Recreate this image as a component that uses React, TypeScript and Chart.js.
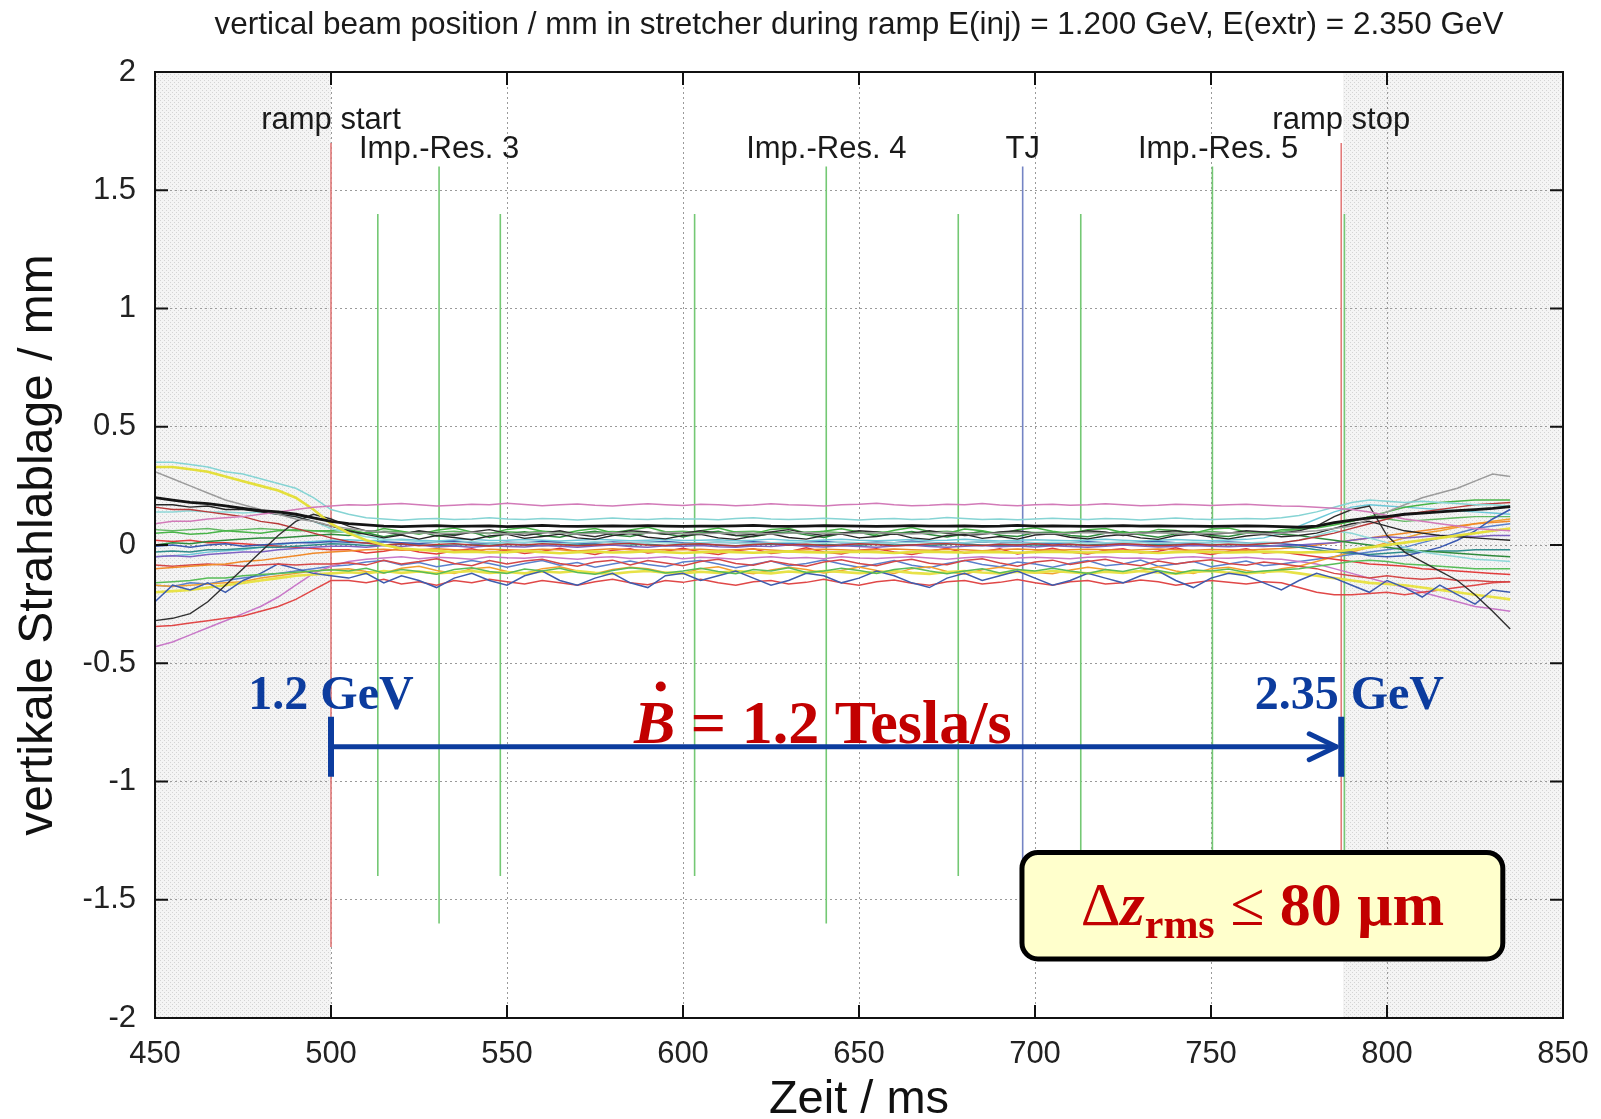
import React, { useEffect, useRef } from "react";
import { Chart, registerables } from "chart.js";

Chart.register(...registerables);

const SANS = "'Liberation Sans', Arial, Helvetica, sans-serif";
const SERIF = "'Liberation Serif', 'Times New Roman', Times, serif";

const TITLE = "vertical beam position / mm in stretcher during ramp E(inj) = 1.200 GeV, E(extr) = 2.350 GeV";
const X_TITLE = "Zeit / ms";
const Y_TITLE = "vertikale Strahlablage / mm";

const X_MIN = 450;
const X_MAX = 850;
const X_STEP = 50;
const Y_MIN = -2;
const Y_MAX = 2;
const Y_STEP = 0.5;

// sample times (ms)
const times = [
  450, 455, 460, 465, 470, 475, 480, 485, 490, 495, 500,
  505, 510, 515, 520, 525, 530, 535, 540, 545, 550,
  555, 560, 565, 570, 575, 580, 585, 590, 595, 600,
  605, 610, 615, 620, 625, 630, 635, 640, 645, 650,
  655, 660, 665, 670, 675, 680, 685, 690, 695, 700,
  705, 710, 715, 720, 725, 730, 735, 740, 745, 750,
  755, 760, 765, 770, 775, 780, 785,
  790, 795, 800, 805, 810, 815, 820, 825, 830, 835,
];

// vertical beam positions (mm) per BPM
const s01BlackThick = [
  .20, .19, .18, .175, .165, .155, .145, .14, .13, .115, .10,
  .09, .085, .08, .078, .08, .082, .079, .08, .081, .078,
  .08, .083, .08, .079, .08, .081, .08, .082, .08, .079,
  .08, .08, .081, .083, .08, .079, .08, .082, .081, .08,
  .079, .08, .082, .08, .08, .081, .079, .08, .083, .08,
  .081, .08, .079, .08, .082, .08, .081, .08, .08, .079,
  .08, .081, .08, .078, .075, .08, .095,
  .105, .115, .12, .13, .135, .14, .145, .15, .155, .162,
];
const s02PinkTop = [
  .09, .10, .10, .11, .115, .12, .13, .14, .15, .16, .165,
  .17, .168, .172, .175, .17, .165, .168, .172, .17, .176,
  .171, .166, .17, .173, .168, .165, .17, .174, .17, .167,
  .172, .17, .166, .169, .174, .17, .168, .165, .17, .172,
  .176, .17, .166, .168, .172, .17, .175, .169, .166, .17,
  .172, .168, .17, .174, .17, .166, .168, .172, .17, .167,
  .17, .172, .168, .165, .164, .16, .155,
  .15, .14, .125, .11, .10, .09, .08, .07, .065, .06,
];
const s03CyanTop = [
  .35, .35, .34, .33, .31, .30, .28, .26, .24, .20, .15,
  .13, .115, .11, .105, .11, .112, .108, .11, .115, .11,
  .108, .112, .11, .106, .11, .114, .11, .108, .112, .11,
  .11, .107, .112, .115, .11, .108, .11, .113, .11, .106,
  .11, .112, .108, .11, .116, .112, .108, .11, .107, .11,
  .113, .11, .108, .112, .11, .106, .11, .114, .11, .108,
  .11, .112, .11, .115, .125, .14, .16,
  .18, .19, .185, .18, .185, .18, .175, .17, .17, .165,
];
const s04Yellow = [
  .33, .33, .32, .31, .29, .27, .25, .23, .20, .15, .09,
  .05, .02, .0, -.015, -.02, -.025, -.03, -.028, -.032, -.03,
  -.025, -.03, -.035, -.03, -.028, -.032, -.03, -.026, -.03, -.034,
  -.03, -.028, -.03, -.033, -.03, -.027, -.03, -.032, -.03, -.028,
  -.03, -.034, -.03, -.028, -.03, -.032, -.029, -.03, -.033, -.03,
  -.028, -.03, -.032, -.03, -.027, -.03, -.034, -.03, -.028, -.03,
  -.032, -.03, -.028, -.03, -.032, -.03, -.028,
  -.02, -.01, .0, .01, .02, .03, .04, .05, .06, .07,
];
const s05Gray = [
  .31, .28, .25, .22, .19, .17, .15, .13, .11, .10, .08,
  .07, .06, .055, .05, .052, .048, .05, .054, .05, .046,
  .05, .053, .05, .047, .05, .052, .049, .05, .054, .05,
  .048, .05, .052, .05, .046, .05, .053, .05, .048, .05,
  .052, .05, .047, .05, .054, .05, .048, .05, .052, .05,
  .049, .05, .053, .05, .047, .05, .052, .05, .048, .05,
  .052, .05, .048, .05, .055, .06, .07,
  .08, .11, .14, .17, .20, .22, .24, .27, .30, .29,
];
const s06Black2 = [
  -.32, -.31, -.29, -.24, -.17, -.10, -.03, .04, .10, .13, .11,
  .08, .06, .055, .045, .06, .05, .04, .055, .065, .05,
  .04, .05, .06, .045, .035, .05, .06, .055, .045, .05,
  .06, .05, .04, .045, .055, .065, .05, .04, .05, .06,
  .055, .045, .05, .06, .05, .04, .045, .055, .06, .05,
  .045, .05, .06, .055, .04, .05, .055, .06, .05, .045,
  .05, .06, .055, .05, .06, .08, .12,
  .15, .165, .04, -.03, -.07, -.11, -.15, -.21, -.28, -.355,
];
const s07Black3 = [
  .17, .17, .16, .165, .15, .15, .14, .13, .12, .10, .08,
  .06, .045, .03, .042, .025, .04, .032, .022, .038, .045,
  .028, .036, .046, .03, .024, .04, .048, .033, .026, .04,
  .045, .03, .024, .038, .047, .032, .025, .04, .046, .03,
  .036, .048, .03, .024, .04, .045, .028, .036, .025, .042,
  .047, .033, .026, .038, .044, .03, .024, .04, .046, .034,
  .026, .038, .045, .035, .04, .05, .07,
  .09, .10, .08, .06, .05, .04, .035, .03, .025, .02,
];
const s08DarkRed = [
  .16, .15, .15, .14, .13, .12, .10, .09, .07, .05, .03,
  .015, .008, .0, .005, -.003, .002, .006, .0, -.004, .003,
  .0, .005, .002, -.003, .0, .004, .007, .0, -.002, .003,
  .005, .0, -.004, .002, .006, .0, .003, -.002, .0, .005,
  .002, -.003, .0, .004, .006, .0, -.002, .003, .0, .005,
  .0, .003, -.002, .0, .005, .002, -.003, .0, .004, .0,
  .003, .0, .005, .01, .02, .035, .05,
  .07, .09, .11, .13, .14, .15, .16, .17, .175, .18,
];
const s09Cyan2 = [
  .14, .14, .145, .14, .14, .135, .14, .13, .12, .10, .07,
  .05, .035, .025, .02, .015, .012, .01, .015, .008, .01,
  .012, .01, .006, .01, .014, .01, .008, .012, .01, .006,
  .01, .013, .01, .007, .01, .012, .01, .008, .013, .01,
  .008, .01, .012, .01, .006, .01, .014, .01, .008, .01,
  .012, .01, .008, .01, .013, .01, .007, .01, .012, .01,
  .01, .008, .012, .01, .02, .04, .06,
  .05, .03, .01, -.01, -.03, -.04, -.05, -.06, -.065, -.07,
];
const s10Green1 = [
  .05, .055, .045, .05, .06, .055, .05, .06, .065, .06, .06,
  .065, .05, .07, .058, .045, .062, .072, .055, .048, .066,
  .074, .058, .046, .06, .07, .052, .063, .075, .056, .047,
  .06, .072, .054, .048, .066, .071, .05, .058, .069, .055,
  .046, .062, .074, .057, .05, .068, .06, .047, .064, .073,
  .058, .049, .065, .07, .053, .047, .066, .061, .05, .068,
  .072, .055, .05, .064, .068, .072, .085,
  .10, .12, .14, .16, .17, .18, .185, .19, .19, .19,
];
const s11Green2 = [
  .0, .01, .005, .015, .02, .025, .03, .03, .035, .04, .045,
  .04, .052, .035, .048, .058, .038, .045, .055, .032, .047,
  .056, .04, .033, .05, .058, .042, .036, .052, .047, .034,
  .05, .058, .04, .035, .049, .056, .043, .032, .05, .054,
  .038, .048, .057, .044, .034, .046, .058, .041, .036, .052,
  .055, .04, .035, .05, .057, .043, .033, .047, .056, .04,
  .036, .05, .055, .045, .04, .03, .02,
  .01, .0, -.01, -.02, -.025, -.03, -.035, -.04, -.045, -.05,
];
const s12Green3 = [
  -.16, -.155, -.15, -.14, -.14, -.13, -.125, -.12, -.115, -.11, -.105,
  -.11, -.098, -.118, -.104, -.112, -.124, -.104, -.096, -.112, -.12,
  -.102, -.11, -.098, -.116, -.124, -.108, -.096, -.104, -.118, -.11,
  -.098, -.112, -.122, -.104, -.11, -.096, -.116, -.11, -.098, -.108,
  -.12, -.104, -.096, -.11, -.122, -.11, -.10, -.118, -.104, -.11,
  -.098, -.11, -.12, -.104, -.112, -.096, -.108, -.122, -.106, -.11,
  -.102, -.116, -.11, -.105, -.10, -.09, -.08,
  -.07, -.065, -.07, -.08, -.085, -.09, -.095, -.10, -.10, -.10,
];
const s13Blue1 = [
  -.005, .0, -.01, .0, .005, -.005, .0, .005, .01, .01, .015,
  .012, .008, .014, .01, .006, .012, .016, .01, .007, .012,
  .01, .015, .011, .006, .01, .013, .009, .012, .015, .01,
  .008, .012, .01, .014, .009, .006, .011, .015, .01, .008,
  .012, .01, .016, .011, .007, .01, .013, .009, .012, .01,
  .006, .01, .014, .01, .008, .012, .015, .01, .007, .011,
  .013, .01, .008, .005, .0, -.01, -.02,
  -.03, -.045, -.05, -.045, -.03, -.01, .02, .06, .11, .15,
];
const s14Purple = [
  -.05, -.045, -.05, -.04, -.035, -.03, -.03, -.02, -.015, -.01, -.005,
  -.005, -.01, -.002, -.006, .0, -.008, -.004, -.01, -.003, -.006,
  -.008, -.002, -.005, -.01, -.004, .0, -.006, -.009, -.003, -.005,
  -.002, -.007, -.01, -.004, -.006, .0, -.005, -.008, -.003, -.006,
  -.009, -.004, -.001, -.006, -.01, -.005, -.002, -.007, -.004, -.008,
  -.003, -.006, -.01, -.005, .0, -.004, -.008, -.006, -.002, -.005,
  -.007, -.004, -.006, -.002, .0, .005, .01,
  .02, .03, .035, .03, .035, .04, .04, .035, .04, .04,
];
const s15Teal = [
  -.03, -.025, -.03, -.02, -.02, -.015, -.01, -.01, -.005, .0, .005,
  .003, -.002, .0, .004, .001, -.003, .0, .002, -.001, .003,
  .0, -.003, .002, .0, .004, -.001, .0, .003, -.002, .001,
  .002, .0, -.003, .001, .004, .0, -.002, .002, .0, -.001,
  .003, .0, .001, -.002, .002, .004, .0, -.003, .001, .0,
  -.002, .002, .0, .003, -.001, .0, .004, .001, -.002, .0,
  .002, .0, -.002, -.005, -.01, -.02, -.03,
  -.035, -.04, -.035, -.03, -.03, -.025, -.025, -.02, -.02, -.02,
];
const s16Orange1 = [
  -.10, -.095, -.09, -.085, -.08, -.07, -.065, -.055, -.045, -.035, -.03,
  -.025, -.02, -.018, -.022, -.02, -.016, -.02, -.024, -.018, -.02,
  -.022, -.018, -.02, -.025, -.02, -.016, -.02, -.022, -.019, -.02,
  -.018, -.022, -.02, -.017, -.021, -.025, -.02, -.018, -.02, -.023,
  -.02, -.017, -.02, -.022, -.018, -.02, -.024, -.02, -.017, -.02,
  -.022, -.02, -.018, -.02, -.023, -.02, -.017, -.02, -.022, -.019,
  -.02, -.022, -.018, -.015, -.01, .0, .01,
  .02, .03, .04, .05, .06, .07, .08, .09, .095, .10,
];
const s17Red1 = [
  .02, .015, .02, .01, .01, .005, .0, -.005, -.01, -.015, -.02,
  -.02, -.034, -.026, -.014, -.03, -.038, -.024, -.016, -.032, -.022,
  -.036, -.026, -.014, -.028, -.04, -.022, -.016, -.034, -.026, -.014,
  -.03, -.04, -.024, -.016, -.036, -.028, -.012, -.03, -.038, -.022,
  -.016, -.03, -.04, -.026, -.014, -.034, -.028, -.016, -.038, -.026,
  -.014, -.03, -.038, -.022, -.016, -.034, -.026, -.012, -.03, -.04,
  -.026, -.016, -.034, -.03, -.04, -.05, -.06,
  -.07, -.08, -.085, -.09, -.10, -.105, -.11, -.115, -.12, -.125,
];
const s18Red2 = [
  -.085, -.09, -.085, -.08, -.085, -.09, -.085, -.08, -.085, -.08, -.08,
  -.075, -.085, -.065, -.08, -.07, -.058, -.078, -.088, -.066, -.08,
  -.068, -.06, -.078, -.09, -.072, -.064, -.084, -.066, -.076, -.088,
  -.07, -.06, -.078, -.086, -.068, -.08, -.09, -.072, -.062, -.078,
  -.088, -.07, -.06, -.077, -.083, -.066, -.058, -.076, -.09, -.072,
  -.064, -.082, -.07, -.06, -.078, -.088, -.068, -.08, -.07, -.062,
  -.078, -.086, -.072, -.08, -.09, -.10, -.12,
  -.13, -.14, -.13, -.14, -.145, -.14, -.15, -.15, -.155, -.155,
];
const s19BlueWiggly = [
  -.24, -.17, -.19, -.16, -.20, -.15, -.12, -.08, -.10, -.12, -.13,
  -.14, -.12, -.16, -.13, -.15, -.18, -.14, -.12, -.15, -.17,
  -.13, -.11, -.15, -.17, -.14, -.12, -.16, -.18, -.13, -.12,
  -.15, -.13, -.11, -.14, -.17, -.15, -.12, -.13, -.16, -.14,
  -.11, -.13, -.16, -.18, -.14, -.12, -.15, -.13, -.11, -.14,
  -.17, -.15, -.12, -.14, -.16, -.13, -.11, -.15, -.18, -.14,
  -.12, -.13, -.16, -.19, -.15, -.12, -.14,
  -.17, -.20, -.15, -.18, -.22, -.17, -.21, -.25, -.19, -.20,
];
const s20Yellow2 = [
  -.20, -.195, -.19, -.18, -.17, -.16, -.15, -.14, -.13, -.125, -.12,
  -.115, -.12, -.11, -.118, -.112, -.12, -.115, -.11, -.118, -.114,
  -.12, -.112, -.116, -.11, -.118, -.122, -.114, -.11, -.117, -.12,
  -.113, -.118, -.11, -.115, -.12, -.112, -.117, -.11, -.114, -.119,
  -.115, -.11, -.118, -.122, -.114, -.11, -.116, -.12, -.113, -.117,
  -.11, -.115, -.12, -.113, -.118, -.11, -.116, -.121, -.114, -.11,
  -.117, -.12, -.114, -.11, -.12, -.13, -.14,
  -.15, -.16, -.165, -.17, -.18, -.19, -.20, -.21, -.22, -.23,
];
const s21Orange2 = [
  -.17, -.175, -.17, -.165, -.16, -.155, -.14, -.13, -.12, -.11, -.105,
  -.10, -.112, -.118, -.098, -.09, -.108, -.12, -.10, -.094, -.112,
  -.12, -.10, -.092, -.11, -.122, -.104, -.094, -.10, -.116, -.12,
  -.10, -.092, -.112, -.122, -.106, -.094, -.104, -.118, -.108, -.093,
  -.108, -.12, -.10, -.092, -.112, -.124, -.105, -.094, -.104, -.116,
  -.122, -.106, -.094, -.104, -.118, -.108, -.092, -.11, -.12, -.10,
  -.094, -.108, -.118, -.10, -.09, -.07, -.05,
  -.03, -.01, .01, .03, .05, .06, .075, .09, .10, .11,
];
const s22RedLow = [
  -.345, -.34, -.33, -.32, -.31, -.30, -.28, -.26, -.23, -.19, -.15,
  -.15, -.16, -.145, -.165, -.155, -.17, -.15, -.16, -.145, -.155,
  -.165, -.15, -.16, -.17, -.155, -.145, -.16, -.168, -.15, -.158,
  -.145, -.16, -.17, -.155, -.15, -.165, -.158, -.145, -.16, -.17,
  -.155, -.148, -.162, -.17, -.155, -.15, -.165, -.158, -.146, -.16,
  -.17, -.155, -.15, -.165, -.16, -.148, -.155, -.17, -.16, -.15,
  -.158, -.165, -.155, -.16, -.18, -.20, -.21,
  -.21, -.205, -.20, -.21, -.20, -.19, -.18, -.17, -.16, -.155,
];
const s23PurplePink = [
  -.43, -.41, -.38, -.35, -.32, -.29, -.26, -.22, -.17, -.12, -.09,
  -.07, -.06, -.055, -.05, -.058, -.052, -.055, -.06, -.05, -.054,
  -.056, -.05, -.055, -.06, -.053, -.05, -.057, -.055, -.05, -.058,
  -.052, -.055, -.06, -.054, -.05, -.056, -.053, -.058, -.05, -.055,
  -.057, -.053, -.05, -.055, -.06, -.054, -.05, -.056, -.055, -.052,
  -.055, -.058, -.052, -.05, -.056, -.055, -.06, -.053, -.05, -.055,
  -.056, -.052, -.058, -.06, -.07, -.08, -.10,
  -.12, -.14, -.16, -.18, -.20, -.22, -.24, -.26, -.27, -.28,
];
const s24Blue3 = [
  -.17, -.175, -.16, -.165, -.15, -.14, -.13, -.12, -.11, -.10, -.09,
  -.085, -.072, -.066, -.084, -.074, -.092, -.08, -.066, -.078, -.094,
  -.078, -.066, -.086, -.074, -.094, -.08, -.068, -.082, -.092, -.072,
  -.066, -.08, -.096, -.082, -.068, -.088, -.078, -.064, -.08, -.094,
  -.08, -.066, -.086, -.096, -.078, -.066, -.082, -.092, -.072, -.08,
  -.094, -.078, -.066, -.088, -.08, -.064, -.09, -.08, -.07, -.092,
  -.08, -.068, -.088, -.08, -.07, -.06, -.05,
  -.04, -.03, -.02, -.01, .01, .03, .05, .07, .08, .09,
];
const s25Green4 = [
  .065, .06, .065, .07, .06, .065, .07, .065, .06, .06, .055,
  .055, .05, .058, .055, .05, .054, .058, .052, .05, .056,
  .053, .058, .055, .05, .054, .057, .052, .05, .055, .058,
  .052, .05, .056, .058, .053, .05, .055, .057, .052, .05,
  .056, .053, .05, .055, .058, .052, .05, .054, .057, .053,
  .05, .055, .058, .052, .05, .056, .054, .05, .053, .057,
  .052, .05, .055, .058, .065, .08, .09,
  .10, .12, .11, .10, .105, .11, .115, .12, .12, .12,
];
const s26Cyan3 = [
  -.05, -.045, -.04, -.03, -.025, -.02, -.01, .0, .01, .015, .02,
  .022, .018, .02, .025, .02, .017, .021, .024, .019, .02,
  .023, .02, .017, .02, .024, .021, .018, .02, .023, .019,
  .02, .022, .018, .02, .025, .02, .017, .021, .024, .02,
  .018, .02, .023, .019, .02, .024, .02, .017, .02, .022,
  .02, .018, .021, .024, .02, .017, .02, .023, .02, .018,
  .021, .024, .03, .05, .08, .11, .14,
  .16, .17, .165, .16, .155, .15, .145, .14, .135, .13,
];

const seriesValues = [
  s01BlackThick, s02PinkTop, s03CyanTop, s04Yellow, s05Gray, s06Black2, s07Black3,
  s08DarkRed, s09Cyan2, s10Green1, s11Green2, s12Green3, s13Blue1, s14Purple,
  s15Teal, s16Orange1, s17Red1, s18Red2, s19BlueWiggly, s20Yellow2, s21Orange2,
  s22RedLow, s23PurplePink, s24Blue3, s25Green4, s26Cyan3,
];
const seriesColors = [
  "#141414", "#d27ab8", "#86d4d4", "#e4df3c", "#9c9c9c", "#303030", "#262626",
  "#b83a3a", "#8fd8d8", "#48b448", "#2f8a3c", "#58bc58", "#3a58b0", "#7e62c2",
  "#2f8c8c", "#f08a2a", "#e23c3c", "#d44848", "#3e5cae", "#e8e248", "#f2a030",
  "#e04848", "#c878c8", "#5a80cc", "#62b862", "#6cc8d8",
];
const seriesWidths = [
  2.8, 1.5, 1.5, 2.6, 1.5, 1.4, 1.4,
  1.4, 1.5, 1.5, 1.5, 1.5, 1.5, 1.5,
  1.5, 1.5, 1.5, 1.5, 1.5, 2.6, 1.5,
  1.5, 1.5, 1.5, 1.4, 1.4,
];

// vertical event markers (ms) with their extent (mm)
const markerX = [500, 787, 513.3, 530.7, 548.1, 603.3, 640.7, 678.2, 713, 750.4, 787.9, 696.5];
const markerTop = [1.7, 1.7, 1.4, 1.6, 1.4, 1.4, 1.6, 1.4, 1.4, 1.6, 1.4, 1.6];
const markerBottom = [-1.7, -1.7, -1.4, -1.6, -1.4, -1.4, -1.6, -1.4, -1.4, -1.6, -1.4, -1.6];
const markerColors = [
  "#e27a7a", "#e27a7a", "#74c874", "#74c874", "#74c874", "#74c874", "#74c874",
  "#74c874", "#74c874", "#74c874", "#74c874", "#7484c4",
];

const markerLabels = ["ramp start", "Imp.-Res. 3", "Imp.-Res. 4", "TJ", "Imp.-Res. 5", "ramp stop"];
const markerLabelX = [500, 530.7, 640.7, 696.5, 752, 787];
const markerLabelY = [1.757, 1.638, 1.638, 1.638, 1.638, 1.757];

// shaded (outside ramp) regions in ms
const shadeRanges = [[450, 500], [787.5, 850]];

// ramp arrow annotation
const rampStart = 500;
const rampEnd = 787;
const arrowY = -0.853;
const arrowBarTop = -0.726;
const arrowBarBottom = -0.98;
const energyLabels = ["1.2 GeV", "2.35 GeV"];
const energyLabelX = [500, 789.3];
const energyLabelY = -0.692;
const bdotText = " = 1.2 Tesla/s";
const bdotX = 639.7;
const bdotY = -0.836;

// rms box annotation
const boxX0 = 696.3;
const boxX1 = 832.9;
const boxY0 = -1.30;
const boxY1 = -1.75;
const boxTextY = -1.606;

export default function App() {
  const canvasRef = useRef<HTMLCanvasElement | null>(null);

  useEffect(() => {
    const canvas = canvasRef.current;
    if (!canvas) return;

    const dataDatasets = seriesValues.map((vals, k) => ({
      type: "line" as const,
      data: vals
        .map((v, i) => ({ x: times[i], y: v }))
        .filter((p) => p.x !== undefined),
      borderColor: seriesColors[k],
      borderWidth: seriesWidths[k],
      pointRadius: 0,
      tension: 0,
      fill: false,
    }));

    const markerDatasets = markerX.map((mx, k) => ({
      type: "line" as const,
      data: [
        { x: mx, y: markerTop[k] },
        { x: mx, y: markerBottom[k] },
      ],
      borderColor: markerColors[k],
      borderWidth: 1.6,
      pointRadius: 0,
      fill: false,
    }));

    let pattern: CanvasPattern | null = null;

    const shadePlugin = {
      id: "shade",
      beforeDraw(chart: any) {
        const { ctx, chartArea, scales } = chart;
        if (!pattern) {
          const c = document.createElement("canvas");
          c.width = 4;
          c.height = 4;
          const g = c.getContext("2d")!;
          g.fillStyle = "#f4f4f4";
          g.fillRect(0, 0, 4, 4);
          g.fillStyle = "#d4d4d4";
          g.fillRect(0, 0, 1, 1);
          g.fillRect(2, 2, 1, 1);
          pattern = ctx.createPattern(c, "repeat");
        }
        ctx.save();
        ctx.fillStyle = pattern || "#efefef";
        shadeRanges.forEach(([a, b]) => {
          const x0 = scales.x.getPixelForValue(a);
          const x1 = scales.x.getPixelForValue(b);
          ctx.fillRect(x0, chartArea.top, x1 - x0, chartArea.bottom - chartArea.top);
        });
        ctx.restore();
      },
    };

    const overlayPlugin = {
      id: "overlay",
      afterDatasetsDraw(chart: any) {
        const { ctx, scales } = chart;
        const X = (v: number) => scales.x.getPixelForValue(v);
        const Y = (v: number) => scales.y.getPixelForValue(v);
        ctx.save();

        // marker labels
        ctx.fillStyle = "#1a1a1a";
        ctx.font = `31px ${SANS}`;
        ctx.textAlign = "center";
        ctx.textBaseline = "alphabetic";
        markerLabels.forEach((t, k) => ctx.fillText(t, X(markerLabelX[k]), Y(markerLabelY[k])));

        // ramp arrow
        const blue = "#0c3c9e";
        ctx.strokeStyle = blue;
        ctx.fillStyle = blue;
        ctx.lineCap = "butt";
        ctx.lineWidth = 5;
        const xa = X(rampStart);
        const xb = X(rampEnd);
        const ya = Y(arrowY);
        ctx.beginPath();
        ctx.moveTo(xa, ya);
        ctx.lineTo(xb - 4, ya);
        ctx.stroke();
        ctx.lineWidth = 6;
        ctx.beginPath();
        ctx.moveTo(xa, Y(arrowBarTop));
        ctx.lineTo(xa, Y(arrowBarBottom));
        ctx.moveTo(xb, Y(arrowBarTop));
        ctx.lineTo(xb, Y(arrowBarBottom));
        ctx.stroke();
        ctx.lineWidth = 5;
        ctx.lineCap = "round";
        ctx.lineJoin = "round";
        const tip = xb - 5;
        ctx.beginPath();
        ctx.moveTo(tip - 27, ya - 13);
        ctx.lineTo(tip, ya);
        ctx.lineTo(tip - 27, ya + 13);
        ctx.stroke();

        // energy labels
        ctx.font = `bold 48px ${SERIF}`;
        ctx.textAlign = "center";
        energyLabels.forEach((t, k) => ctx.fillText(t, X(energyLabelX[k]), Y(energyLabelY)));

        // B-dot label
        ctx.fillStyle = "#c20000";
        ctx.textAlign = "left";
        ctx.font = `italic bold 62px ${SERIF}`;
        const wB = ctx.measureText("B").width;
        ctx.font = `bold 62px ${SERIF}`;
        const wRest = ctx.measureText(bdotText).width;
        const bx0 = X(bdotX) - (wB + wRest) / 2;
        const by = Y(bdotY);
        ctx.font = `italic bold 62px ${SERIF}`;
        ctx.fillText("B", bx0, by);
        ctx.font = `bold 62px ${SERIF}`;
        ctx.fillText(bdotText, bx0 + wB, by);
        ctx.textAlign = "center";
        ctx.fillText(".", bx0 + wB / 2 + 6, by - 52);

        // rms box
        const bxa = X(boxX0);
        const bxb = X(boxX1);
        const bya = Y(boxY0);
        const byb = Y(boxY1);
        const r = 16;
        ctx.beginPath();
        ctx.moveTo(bxa + r, bya);
        ctx.lineTo(bxb - r, bya);
        ctx.arcTo(bxb, bya, bxb, bya + r, r);
        ctx.lineTo(bxb, byb - r);
        ctx.arcTo(bxb, byb, bxb - r, byb, r);
        ctx.lineTo(bxa + r, byb);
        ctx.arcTo(bxa, byb, bxa, byb - r, r);
        ctx.lineTo(bxa, bya + r);
        ctx.arcTo(bxa, bya, bxa + r, bya, r);
        ctx.closePath();
        ctx.fillStyle = "#ffffcc";
        ctx.fill();
        ctx.lineWidth = 5;
        ctx.strokeStyle = "#000";
        ctx.stroke();

        const parts = [
          { t: "\u0394", f: `62px ${SERIF}`, dy: 0 },
          { t: "z", f: `italic bold 62px ${SERIF}`, dy: 0 },
          { t: "rms", f: `bold 42px ${SERIF}`, dy: 13 },
          { t: " \u2264 ", f: `62px ${SERIF}`, dy: 0 },
          { t: "80 \u03bcm", f: `bold 62px ${SERIF}`, dy: 0 },
        ];
        ctx.textAlign = "left";
        let total = 0;
        const widths = parts.map((p) => {
          ctx.font = p.f;
          const w = ctx.measureText(p.t).width;
          total += w;
          return w;
        });
        let cx = (bxa + bxb) / 2 - total / 2;
        const ty = Y(boxTextY);
        ctx.fillStyle = "#c20000";
        parts.forEach((p, k) => {
          ctx.font = p.f;
          ctx.fillText(p.t, cx, ty + p.dy);
          cx += widths[k];
        });

        ctx.restore();
      },
    };

    const framePlugin = {
      id: "frame",
      afterDraw(chart: any) {
        const { ctx, chartArea, scales } = chart;
        const { left, right, top, bottom } = chartArea;
        ctx.save();
        ctx.strokeStyle = "#111";
        ctx.lineWidth = 2;
        ctx.strokeRect(left, top, right - left, bottom - top);
        ctx.beginPath();
        const tl = 13;
        scales.x.ticks.forEach((t: any) => {
          const px = scales.x.getPixelForValue(t.value);
          ctx.moveTo(px, bottom);
          ctx.lineTo(px, bottom - tl);
          ctx.moveTo(px, top);
          ctx.lineTo(px, top + tl);
        });
        scales.y.ticks.forEach((t: any) => {
          const py = scales.y.getPixelForValue(t.value);
          ctx.moveTo(left, py);
          ctx.lineTo(left + tl, py);
          ctx.moveTo(right, py);
          ctx.lineTo(right - tl, py);
        });
        ctx.stroke();

        ctx.fillStyle = "#1a1a1a";
        ctx.font = `31.5px ${SANS}`;
        ctx.textAlign = "center";
        ctx.textBaseline = "alphabetic";
        ctx.fillText(TITLE, (left + right) / 2, 34);
        ctx.restore();
      },
    };

    const chart = new Chart(canvas, {
      type: "line",
      data: { datasets: [...dataDatasets, ...markerDatasets] as any },
      options: {
        animation: false,
        responsive: false,
        devicePixelRatio: 1,
        layout: { padding: { top: 72, right: 38, left: 0, bottom: 0 } },
        plugins: {
          legend: { display: false },
          tooltip: { enabled: false },
          title: { display: false },
        },
        scales: {
          x: {
            type: "linear",
            min: X_MIN,
            max: X_MAX,
            ticks: {
              stepSize: X_STEP,
              font: { family: SANS, size: 31 },
              color: "#222",
              padding: 0,
              maxRotation: 0,
              autoSkip: false,
              callback: (v: any) => String(v),
            },
            grid: {
              color: "#9a9a9a",
              lineWidth: 1,
              drawTicks: true,
              tickLength: 18,
              tickColor: "rgba(0,0,0,0)",
            },
            border: { display: false, dash: [2, 3] },
            title: {
              display: true,
              text: X_TITLE,
              color: "#111",
              font: { family: SANS, size: 47, lineHeight: 0.8 },
              padding: { top: 0, bottom: 0 },
            },
            afterFit(scale: any) {
              scale.height = 101;
            },
          },
          y: {
            type: "linear",
            min: Y_MIN,
            max: Y_MAX,
            ticks: {
              stepSize: Y_STEP,
              font: { family: SANS, size: 31 },
              color: "#222",
              padding: 0,
              autoSkip: false,
              callback: (v: any) => String(v),
            },
            grid: {
              color: "#9a9a9a",
              lineWidth: 1,
              drawTicks: true,
              tickLength: 19,
              tickColor: "rgba(0,0,0,0)",
            },
            border: { display: false, dash: [2, 3] },
            title: {
              display: true,
              text: Y_TITLE,
              color: "#111",
              font: { family: SANS, size: 48, lineHeight: 1.2 },
              padding: { top: 10, bottom: 0 },
            },
            afterFit(scale: any) {
              scale.width = 155;
            },
          },
        },
      },
      plugins: [shadePlugin, overlayPlugin, framePlugin],
    });

    return () => chart.destroy();
  }, []);

  return (
    <div style={{ position: "fixed", left: 0, top: 0, width: 1601, height: 1119, background: "#fff" }}>
      <canvas ref={canvasRef} width={1601} height={1119} style={{ display: "block", width: 1601, height: 1119 }} />
    </div>
  );
}
